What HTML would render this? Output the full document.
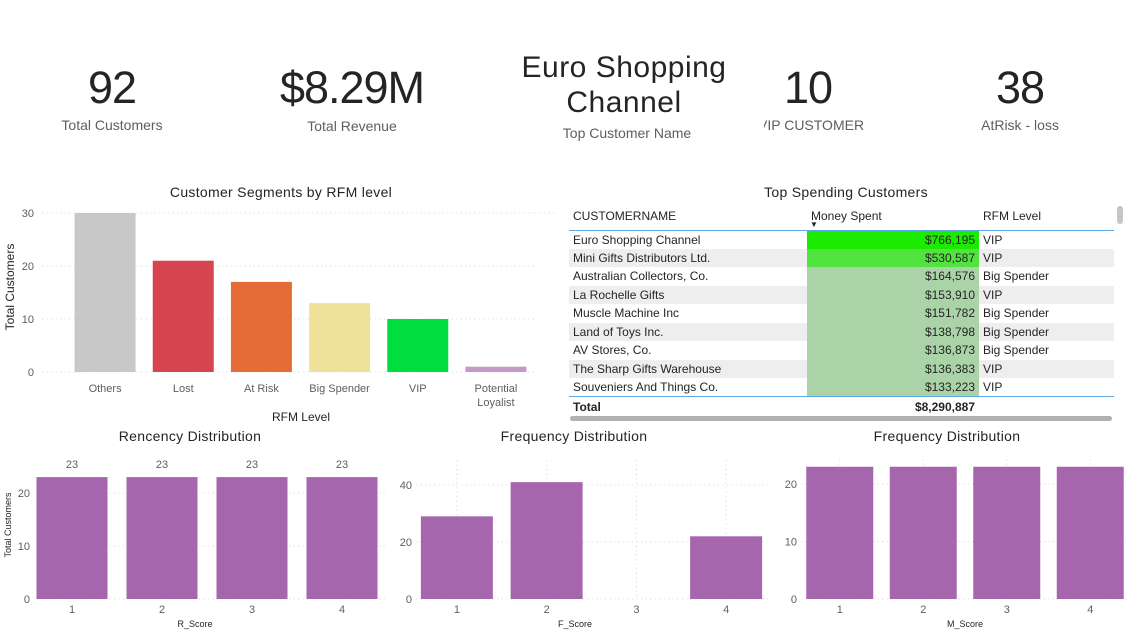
<!DOCTYPE html>
<html><head><meta charset="utf-8">
<style>
body{margin:0;width:1126px;height:631px;background:#fff;position:relative;overflow:hidden;font-family:"Liberation Sans",sans-serif;color:#252423}
.abs{position:absolute}
.kv{position:absolute;font-size:45px;text-align:center;transform:translateX(-50%);white-space:nowrap;color:#252423;letter-spacing:-1px}
.kl{position:absolute;font-size:14px;color:#605e5c;text-align:center;transform:translateX(-50%);white-space:nowrap}
.title{position:absolute;font-size:14px;color:#252423;transform:translateX(-50%);white-space:nowrap;letter-spacing:0.3px}
table{border-collapse:collapse;font-size:12px;color:#252423;table-layout:fixed}
td{padding:0 4px;height:18.5px;line-height:18px;white-space:nowrap;overflow:hidden;box-sizing:border-box}
svg text{font-family:"Liberation Sans",sans-serif}
</style></head><body>
<div class="kv" style="left:112px;top:62px">92</div>
<div class="kl" style="left:112px;top:117px">Total Customers</div>
<div class="kv" style="left:352px;top:62px">$8.29M</div>
<div class="kl" style="left:352px;top:118px">Total Revenue</div>
<div class="kv" style="left:624px;top:50px;font-size:30px;line-height:35px;letter-spacing:0.5px">Euro Shopping<br>Channel</div>
<div class="kl" style="left:627px;top:125px">Top Customer Name</div>
<div class="kv" style="left:808px;top:62px">10</div>
<div class="abs" style="left:764px;top:117px;width:110px;overflow:hidden;font-size:14px;color:#605e5c;white-space:nowrap"><span style="margin-left:-6px">VIP CUSTOMER</span></div>
<div class="kv" style="left:1020px;top:62px">38</div>
<div class="kl" style="left:1020px;top:117px">AtRisk - loss</div>

<div class="title" style="left:281px;top:184px">Customer Segments by RFM level</div>
<div class="title" style="left:846px;top:184px">Top Spending Customers</div>
<div class="title" style="left:190px;top:428px">Rencency Distribution</div>
<div class="title" style="left:574px;top:428px">Frequency Distribution</div>
<div class="title" style="left:947px;top:428px">Frequency Distribution</div>

<div class="abs" style="left:569px;top:205px;width:545px">
<table style="width:545px" id="tbl">
<colgroup><col style="width:238px"><col style="width:172px"><col></colgroup>
<tr style="border-bottom:1px solid #5ea6e8">
<td style="height:25px;vertical-align:top;padding-top:2px">CUSTOMERNAME</td>
<td style="height:25px;vertical-align:top;padding-top:2px;position:relative;overflow:visible">Money Spent<span style="position:absolute;left:3px;top:11px;font-size:8px">▼</span></td>
<td style="height:25px;vertical-align:top;padding-top:2px">RFM Level</td></tr>
</table>
</div>
<div class="abs" style="left:1117px;top:206px;width:6px;height:18px;background:#c8c6c4;border-radius:3px"></div>
<div class="abs" style="left:570px;top:416px;width:542px;height:5px;background:#b3b0ad;border-radius:3px"></div>

<svg class="abs" style="left:0;top:0" width="1126" height="631" id="svg"></svg>

<script>
// RFM chart data
const rfmCategories=["Others","Lost","At Risk","Big Spender","VIP","Potential Loyalist"];
const rfmValues=[30,21,17,13,10,1];
const rfmColors=["#c8c8c8","#d64550","#e66c37","#f0e199","#00dd3f","#c59ac9"];
const rfmTicks=[0,10,20,30];
// Table data
const custNames=["Euro Shopping Channel","Mini Gifts Distributors Ltd.","Australian Collectors, Co.","La Rochelle Gifts","Muscle Machine Inc","Land of Toys Inc.","AV Stores, Co.","The Sharp Gifts Warehouse","Souveniers And Things Co."];
const custMoney=[766195,530587,164576,153910,151782,138798,136873,136383,133223];
const custLevel=["VIP","VIP","Big Spender","VIP","Big Spender","Big Spender","Big Spender","VIP","VIP"];
const totalMoney=8290887;
// Distribution charts
const rCategories=["1","2","3","4"];
const rValues=[23,23,23,23];
const rTicks=[0,10,20];
const fCategories=["1","2","3","4"];
const fValues=[29,41,0,22];
const fTicks=[0,20,40];
const mCategories=["1","2","3","4"];
const mValues=[23,23,23,23];
const mTicks=[0,10,20];

const NS="http://www.w3.org/2000/svg";
const svg=document.getElementById('svg');
function mk(tag,attrs,parent,txt){const e=document.createElementNS(NS,tag);for(const k in attrs)e.setAttribute(k,attrs[k]);if(txt!==undefined)e.textContent=txt;(parent||svg).appendChild(e);return e;}

function barChart(o){
  const g=mk('g',{});
  
  
  const y=v=>o.y0-v*(o.y0-o.yTop)/o.yMax;
  const step=(o.x1-o.x0)/o.cats.length;
  o.ticks.forEach(t=>{
    const gl=mk('line',{x1:o.gx0,x2:o.x1,y1:y(t),y2:y(t),stroke:'#e1e1e1','stroke-dasharray':'1.5 3'},g);
    
    
    const tl=mk('text',{x:o.tickX,y:y(t)+4,'text-anchor':'end','font-size':11,fill:'#605e5c'},g,String(t));
    
    
  });
  o.cats.forEach((c,i)=>{
    const cx=o.x0+step*(i+0.5);
    if(o.vgrid){const vl=mk('line',{x1:cx,x2:cx,y1:o.yTop-25,y2:o.y0,stroke:'#e1e1e1','stroke-dasharray':'1.5 3'},g);
      
      }
    const v=o.vals[i];
    if(v>0){
      const b=mk('rect',{x:cx-o.bw/2,y:y(v),width:o.bw,height:o.y0-y(v),fill:o.colors?o.colors[i]:'#a566ae'},g);
      
      
    }
    if(o.labels){const dl=mk('text',{x:cx,y:y(v)-9,'text-anchor':'middle','font-size':11,fill:'#605e5c'},g,String(v));
      
      }
    const parts=c.split(' ');
    const lines=(o.wrap&&parts.length>1&&c.length>11)?parts:[c];
    lines.forEach((ln,j)=>{const xl=mk('text',{x:cx,y:o.y0+o.xOff+j*14,'text-anchor':'middle','font-size':11,fill:'#605e5c'},g,ln);
      
      });
  });
  const xt=mk('text',{x:o.xTitleX,y:o.xTitleY,'text-anchor':'middle','font-size':o.xTitleSize,fill:'#252423'},g,o.xTitle);
  
  
  if(o.yTitle){const yt=mk('text',{x:0,y:0,'text-anchor':'middle','font-size':o.yTitleSize,fill:'#252423',transform:`translate(${o.yTitleX},${o.yTitleY}) rotate(-90)`},g,o.yTitle);
    
    }
}

barChart({name:'rfm-segments-chart',cats:rfmCategories,vals:rfmValues,colors:rfmColors,ticks:rfmTicks,x0:66,x1:535,gx0:42,bw:61,y0:372,yTop:213,yMax:30,tickX:34,xOff:20,wrap:true,xTitle:'RFM Level',xTitleX:301,xTitleY:421,xTitleSize:12,yTitle:'Total Customers',yTitleX:14,yTitleY:287,yTitleSize:12});
mk('line',{x1:535,x2:555,y1:213,y2:213,stroke:'#e1e1e1','stroke-dasharray':'1.5 3'});
barChart({name:'recency-chart',cats:rCategories,vals:rValues,ticks:rTicks,x0:27,x1:387,gx0:37,bw:71,y0:599,yTop:493,yMax:20,tickX:30,xOff:14,labels:true,xTitle:'R_Score',xTitleX:195,xTitleY:627,xTitleSize:9,yTitle:'Total Customers',yTitleX:11,yTitleY:525,yTitleSize:9});
barChart({name:'frequency-chart',cats:fCategories,vals:fValues,ticks:fTicks,x0:412,x1:771,gx0:416,bw:72,y0:599,yTop:485,yMax:40,tickX:412,xOff:14,vgrid:true,xTitle:'F_Score',xTitleX:575,xTitleY:627,xTitleSize:9});
barChart({name:'monetary-chart',cats:mCategories,vals:mValues,ticks:mTicks,x0:798,x1:1132,gx0:801,bw:67,y0:599,yTop:484,yMax:20,tickX:797,xOff:14,vgrid:true,xTitle:'M_Score',xTitleX:965,xTitleY:627,xTitleSize:9});

// table
const tbl=document.getElementById('tbl');
const maxM=Math.max(...custMoney);
function moneyColor(v){const r=v/maxM;if(r>0.9)return '#1aeb00';if(r>0.6)return '#52e340';return '#aad4a8';}
custNames.forEach((n,i)=>{
  const tr=document.createElement('tr');
  
  
  if(i%2===1)tr.style.background='#eeeeee';
  const fmt='$'+custMoney[i].toLocaleString('en-US');
  tr.innerHTML=`<td>${n}</td><td style="text-align:right;background:${moneyColor(custMoney[i])}">${fmt}</td><td>${custLevel[i]}</td>`;
  tbl.appendChild(tr);
});
const tt=document.createElement('tr');


tt.style.borderTop='1px solid #5ea6e8';tt.style.fontWeight='bold';
tt.innerHTML=`<td style="height:20px">Total</td><td style="height:20px;text-align:right">$${totalMoney.toLocaleString('en-US')}</td><td style="height:20px"></td>`;
tbl.appendChild(tt);
</script>
</body></html>
